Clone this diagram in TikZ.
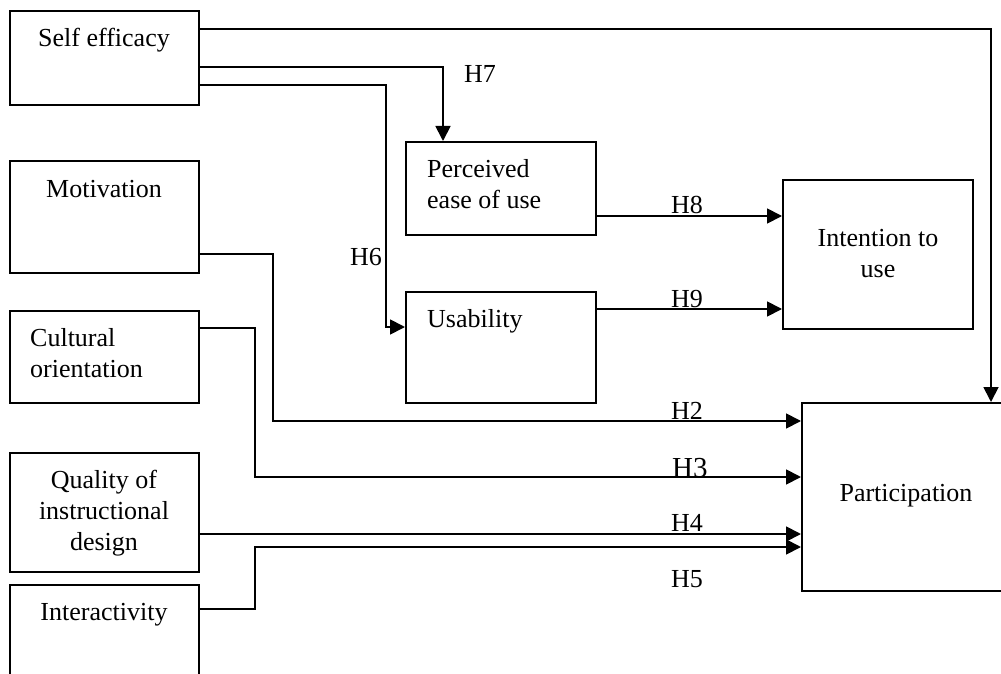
\documentclass[tikz,border=0pt]{standalone}
\usepackage{fontspec}
\setmainfont{Liberation Serif}
\usetikzlibrary{arrows.meta,positioning,calc}
\tikzset{
  box/.style={draw,line width=2pt,inner sep=0pt},
  txt/.style={font=\fontsize{26}{31}\selectfont,inner sep=0pt},
  hyp/.style={font=\fontsize{26}{31}\selectfont,inner sep=0pt,anchor=base west},
  arr/.style={-{Triangle[length=15pt,width=15pt]},line width=1.8pt},
}
\begin{document}
\begin{tikzpicture}[x=1pt,y=-1pt]
\useasboundingbox (0,0) rectangle (1001,674);
% construct boxes
\node[box,minimum width=189,minimum height=94] (se) at (104.5,58) {};
\node[box,minimum width=189,minimum height=112] (mot) at (104.5,217) {};
\node[box,minimum width=189,minimum height=92] (cul) at (104.5,357) {};
\node[box,minimum width=189,minimum height=119] (qual) at (104.5,512.5) {};
\node[box,minimum width=189,minimum height=100] (inter) at (104.5,635) {};
\node[box,minimum width=190,minimum height=93] (peou) at (501,188.5) {};
\node[box,minimum width=190,minimum height=111] (usab) at (501,347.5) {};
\node[box,minimum width=190,minimum height=149] (intent) at (878,254.5) {};
\node[box,minimum width=208,minimum height=188] (part) at (906,497) {};
% box texts (multi-line ones sit on their last baseline)
\node[txt,anchor=base] (set) at (104,47) {Self efficacy};
\node[txt,anchor=base] (mott) at (104,197) {Motivation};
\node[txt,anchor=base west,align=left] (cult) at (30,377) {Cultural\\orientation};
\node[txt,anchor=base,align=center] (qualt) at (104,550) {Quality of\\instructional\\design};
\node[txt,anchor=base] (intert) at (104,620) {Interactivity};
\node[txt,anchor=base west,align=left] (peout) at (427,208) {Perceived\\ease of use};
\node[txt,anchor=base west] (usabt) at (427,327) {Usability};
\node[txt,anchor=base,align=center] (intentt) at (878,277) {Intention to\\use};
\node[txt,anchor=base] (partt) at (906,501) {Participation};
% paths
\draw[arr] ($(se.north east)+(0,19)$) -| ($(part.north west)+(190,0)$);
\draw[arr] ($(se.north east)+(0,57)$) -| ($(peou.north west)+(38,0)$);
\draw[arr] ($(se.north east)+(0,75)$) -| ($(usab.north west)+(-19,36)$) -- ($(usab.north west)+(0,36)$);
\draw[arr] ($(mot.north east)+(0,94)$) -| ($(part.north west)+(-528,19)$) -- ($(part.north west)+(0,19)$);
\draw[arr] ($(cul.north east)+(0,18)$) -| ($(part.north west)+(-546,75)$) -- ($(part.north west)+(0,75)$);
\draw[arr] ($(qual.north east)+(0,82)$) -- ($(part.north west)+(0,132)$);
\draw[arr] ($(inter.north east)+(0,25)$) -| ($(part.north west)+(-546,145)$) -- ($(part.north west)+(0,145)$);
\draw[arr] ($(peou.north east)+(0,75)$) -- ($(intent.north west)+(0,37)$);
\draw[arr] ($(usab.north east)+(0,18)$) -- ($(intent.north west)+(0,130)$);
% hypothesis labels
\node[hyp] (h7) at (464,83) {H7};
\node[hyp] (h6) at (350,265) {H6};
\node[hyp] (h8) at (671,213) {H8};
\node[hyp] (h9) at (671,307) {H9};
\node[hyp] (h2) at (671,419) {H2};
\node[hyp,font=\fontsize{29}{31}\selectfont] (h3) at (672,477) {H3};
\node[hyp] (h4) at (671,531) {H4};
\node[hyp] (h5) at (671,587) {H5};
\end{tikzpicture}
\end{document}
